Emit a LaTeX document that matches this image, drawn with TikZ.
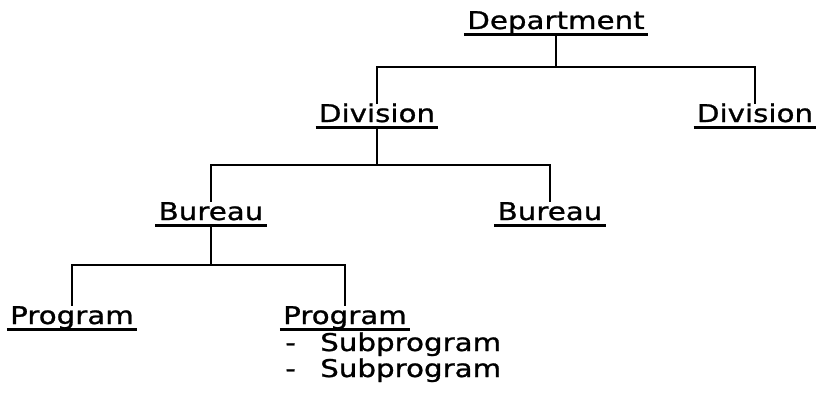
\documentclass[tikz,border=0pt]{standalone}
\usepackage{fontspec}
\newfontfamily\orgfont[FakeStretch=1.2, FakeBold=1]{DejaVu Sans}
\usepackage{tikz}
\usetikzlibrary{calc}

\tikzset{
	unit/.style={font=\orgfont\fontsize{13.9}{17}\selectfont, inner xsep=0.06cm, inner ysep=0pt, text height=0.36cm, text depth=0.1cm, anchor=base},
	sub/.style={font=\orgfont\fontsize{13.9}{17}\selectfont, inner sep=0pt, anchor=base west},
	link/.style={line width=1.6pt},
	uline/.style={line width=1.6pt}
}

\begin{document}
\begin{tikzpicture}[x=0.02cm, y=-0.02cm]
		%%%%% START %%%%%
		\useasboundingbox (0, 0) rectangle (820, 395);
		
		\node[unit] (dep) at (556, 29) {Department};
		
		\node[unit] (divL) at (377, 122) {Division};
		\node[unit] (divR) at (755, 122) {Division};
		
		\node[unit] (burL) at (211, 220) {Bureau};
		\node[unit] (burR) at (550, 220) {Bureau};
		
		\node[unit] (progL) at (72, 324) {Program};
		\node[unit] (progR) at (345, 324) {Program};
		\node[sub] (subA) at (285, 351) {-\hspace{0.3cm} Subprogram};
		\node[sub] (subB) at (285, 377) {-\hspace{0.3cm} Subprogram};
		
		\foreach \n in {dep, divL, divR, burL, burR, progL, progR}
			\draw[uline] (\n.south west) -- (\n.south east);
		
		\coordinate (depbar) at (556, 67);
		\coordinate (divbar) at (377, 165);
		\coordinate (burbar) at (211, 265);
		
		\draw[link] (dep.south) -- (depbar) -| (divL.north);
		\draw[link] (depbar) -| (divR.north);
		
		\draw[link] (divL.south) -- (divbar) -| (burL.north);
		\draw[link] (divbar) -| (burR.north);
		
		\draw[link] (burL.south) -- (burbar) -| (progL.north);
		\draw[link] (burbar) -| (progR.north);
		%%%%% END %%%%%
	\end{tikzpicture}
\end{document}
